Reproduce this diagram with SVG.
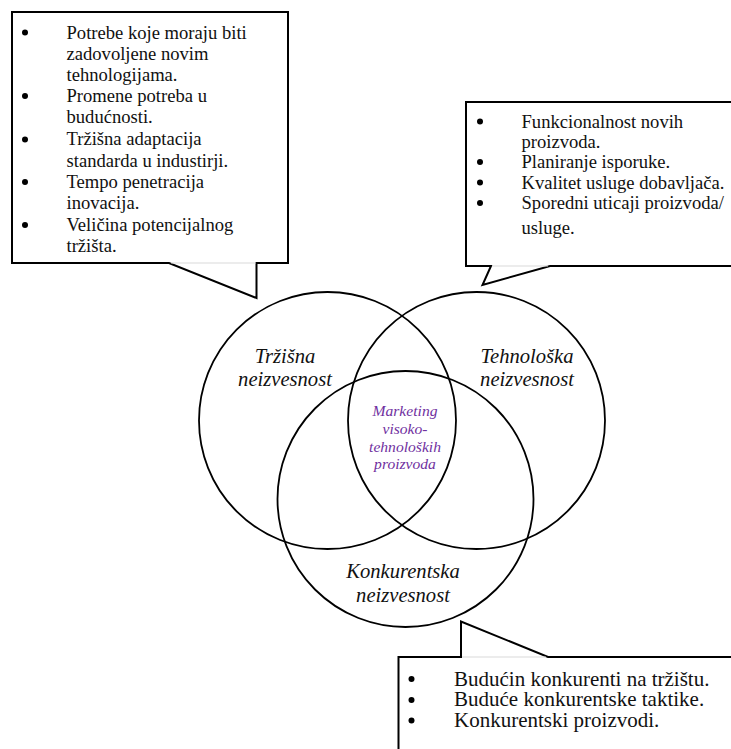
<svg xmlns="http://www.w3.org/2000/svg" width="731" height="749" viewBox="0 0 731 749">
  <style>
    .callout { fill: #ffffff; stroke: #000000; stroke-width: 2; stroke-linejoin: miter; }
    .seam { stroke: #d9d9d9; stroke-width: 1.2; }
    .set { fill: none; stroke: #000000; stroke-width: 1.8; }
    .item { font-family: "Liberation Serif", "Times New Roman", serif; font-size: 18.6px; fill: #111111; }
    .item-lg { font-family: "Liberation Serif", "Times New Roman", serif; font-size: 21px; fill: #111111; }
    .label { font-family: "Liberation Serif", "Times New Roman", serif; font-style: italic; font-size: 20.6px; fill: #111111; text-anchor: middle; }
    .core { font-family: "Liberation Serif", "Times New Roman", serif; font-style: italic; font-size: 15.6px; fill: #7030A0; text-anchor: middle; }
    .dot { fill: #000000; }
  </style>
  <rect width="731" height="749" fill="#ffffff"/>

  <!-- Market uncertainty callout -->
  <g id="callout-market">
    <path class="callout" d="M12,12 H288 V263 H256.5 V298 L169,263 H12 Z"/>
    <line class="seam" x1="171" y1="263" x2="255.5" y2="263"/>
    <circle class="dot" cx="25" cy="32.5" r="3"/>
    <circle class="dot" cx="25" cy="96" r="3"/>
    <circle class="dot" cx="25" cy="139.5" r="3"/>
    <circle class="dot" cx="25" cy="182" r="3"/>
    <circle class="dot" cx="25" cy="225" r="3"/>
    <text class="item" x="66.5" y="38.5">Potrebe koje moraju biti</text>
    <text class="item" x="66.5" y="59.5">zadovoljene novim</text>
    <text class="item" x="66.5" y="80.5">tehnologijama.</text>
    <text class="item" x="66.5" y="102">Promene potreba u</text>
    <text class="item" x="66.5" y="123">budućnosti.</text>
    <text class="item" x="66.5" y="145">Tržišna adaptacija</text>
    <text class="item" x="66.5" y="166.5">standarda u industirji.</text>
    <text class="item" x="66.5" y="188">Tempo penetracija</text>
    <text class="item" x="66.5" y="209">inovacija.</text>
    <text class="item" x="66.5" y="231">Veličina potencijalnog</text>
    <text class="item" x="66.5" y="252">tržišta.</text>
  </g>

  <!-- Technology uncertainty callout -->
  <g id="callout-technology">
    <path class="callout" d="M466,102 H740 V266 H550 L482.5,285 L491,266 H466 Z"/>
    <line class="seam" x1="492" y1="266" x2="548" y2="266"/>
    <circle class="dot" cx="480" cy="121.5" r="3"/>
    <circle class="dot" cx="480" cy="162" r="3"/>
    <circle class="dot" cx="480" cy="182.5" r="3"/>
    <circle class="dot" cx="480" cy="203" r="3"/>
    <text class="item" x="521.5" y="127.5">Funkcionalnost novih</text>
    <text class="item" x="521.5" y="148">proizvoda.</text>
    <text class="item" x="521.5" y="168">Planiranje isporuke.</text>
    <text class="item" x="521.5" y="188.5">Kvalitet usluge dobavljača.</text>
    <text class="item" x="521.5" y="209">Sporedni uticaji proizvoda/</text>
    <text class="item" x="521.5" y="234">usluge.</text>
  </g>

  <!-- Competitive uncertainty callout -->
  <g id="callout-competition">
    <path class="callout" d="M398.5,657 H461 V621.5 L548,657 H740 V760 H398.5 Z"/>
    <line class="seam" x1="462" y1="657" x2="546" y2="657"/>
    <circle class="dot" cx="411.5" cy="679" r="3"/>
    <circle class="dot" cx="411.5" cy="700" r="3"/>
    <circle class="dot" cx="411.5" cy="720.5" r="3"/>
    <text class="item-lg" x="454" y="685.5">Budućin konkurenti na tržištu.</text>
    <text class="item-lg" x="454" y="706">Buduće konkurentske taktike.</text>
    <text class="item-lg" x="454" y="726.5">Konkurentski proizvodi.</text>
  </g>

  <!-- Venn sets -->
  <g id="set-market">
    <circle class="set" cx="327.5" cy="420.5" r="128.5"/>
    <text class="label" x="285" y="362.5">Tržišna</text>
    <text class="label" x="285" y="386">neizvesnost</text>
  </g>
  <g id="set-technology">
    <circle class="set" cx="476.5" cy="420.5" r="128.5"/>
    <text class="label" x="527" y="362.5">Tehnološka</text>
    <text class="label" x="527" y="386">neizvesnost</text>
  </g>
  <g id="set-competition">
    <circle class="set" cx="405.5" cy="499" r="128"/>
    <text class="label" x="403" y="577.5">Konkurentska</text>
    <text class="label" x="403" y="601.5">neizvesnost</text>
  </g>

  <!-- Shared core of all three sets -->
  <g id="core">
    <text class="core" x="405" y="416">Marketing</text>
    <text class="core" x="405" y="434">visoko-</text>
    <text class="core" x="405" y="451.5">tehnoloških</text>
    <text class="core" x="405" y="469">proizvoda</text>
  </g>
</svg>
